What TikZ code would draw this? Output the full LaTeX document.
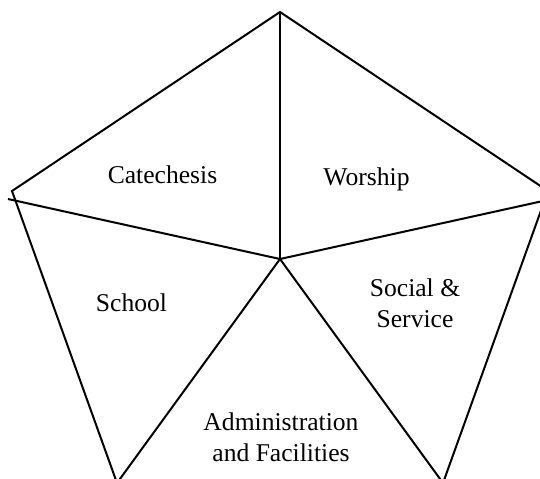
\documentclass[tikz,border=0pt]{standalone}
\usepackage{fontspec}
\setmainfont{Liberation Serif}

\begin{document}
\begin{tikzpicture}[
    x=0.5pt, y=-0.5pt,
    edge/.style={
        draw=black,
        line width=1pt
    },
    area/.style={
        font=\fontsize{12.8}{15.5}\selectfont,
        align=center,
        inner sep=0pt
    }
    ]
    \clip (0,0) rectangle (540,478);

    \coordinate (c) at (280,259);
    \coordinate (top) at (280,12);
    \coordinate (left) at (12,191);
    \coordinate (right) at (548,191);
    \coordinate (botleft) at (117,483);
    \coordinate (botright) at (443,483);
    \coordinate (lefttip) at (8,199);
    \coordinate (righttip) at (552,199);

    \draw[edge] (botleft) -- (left) -- (top) -- (right) -- (botright);
    \draw[edge] (c) -- (top);
    \draw[edge] (c) -- (lefttip);
    \draw[edge] (c) -- (righttip);
    \draw[edge] (c) -- (botleft);
    \draw[edge] (c) -- (botright);

    \node[area, anchor=base] (cat) at (162.5,183) {Catechesis};
    \node[area, anchor=base] (wor) at (366.5,185) {Worship};
    \node[area, anchor=base] (sch) at (131.5,311.5) {School};
    \node[area] (soc) at (415,303) {Social \&\\Service};
    \node[area] (adm) at (281,437.5) {Administration\\and Facilities};
\end{tikzpicture}
\end{document}
